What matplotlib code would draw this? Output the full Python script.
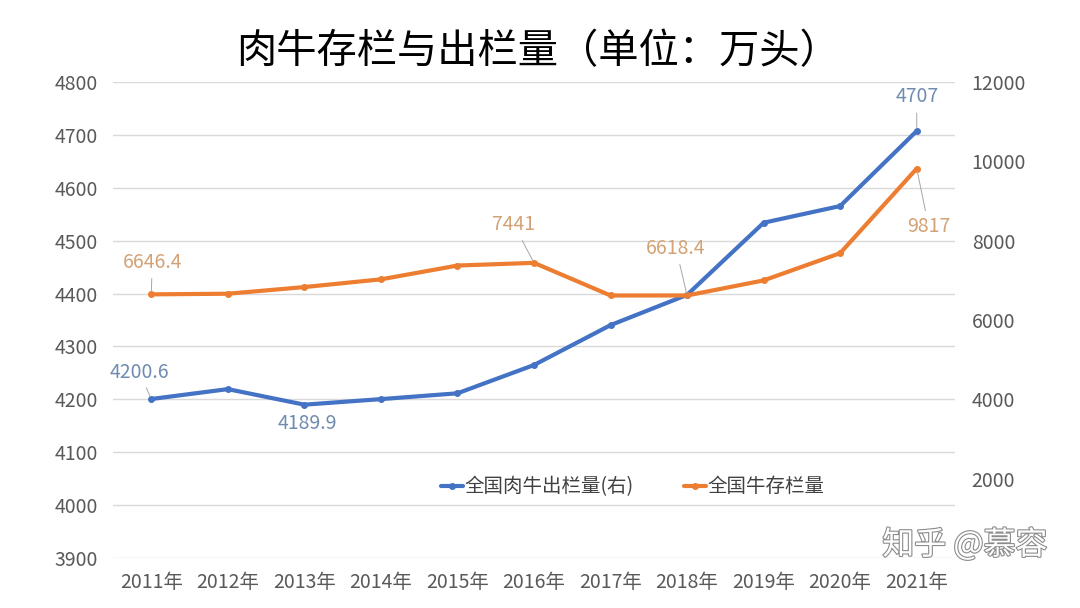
import matplotlib
matplotlib.use("Agg")
import matplotlib.pyplot as plt
import matplotlib.patheffects as pe


# data (万头)
years = ["2011年", "2012年", "2013年", "2014年", "2015年", "2016年",
         "2017年", "2018年", "2019年", "2020年", "2021年"]
slaughter = [4200.6, 4219.3, 4189.9, 4200.4, 4211.4, 4264.9,
             4340.3, 4397.5, 4533.9, 4565.5, 4707.4]
stock = [6646.4, 6662.3, 6830.0, 7025.0, 7372.9, 7441.0,
         6617.9, 6618.4, 6998.0, 7685.1, 9817.0]

left_ticks = [3900, 4000, 4100, 4200, 4300, 4400, 4500, 4600, 4700, 4800]
right_ticks = [2000, 4000, 6000, 8000, 10000, 12000]

# labelled points: (index, text)
slaughter_labels = [(0, "4200.6"), (2, "4189.9"), (10, "4707")]
stock_labels = [(0, "6646.4"), (5, "7441"), (7, "6618.4"), (10, "9817")]

BLUE = "#4472C4"
ORANGE = "#ED7D31"
GRID = "#D9D9D9"
TICK = "#595959"

plt.rcParams["font.family"] = ["Noto Sans CJK SC", "DejaVu Sans"]
plt.rcParams["font.weight"] = "light"

fig = plt.figure(figsize=(10.8, 6.08), dpi=100)
ax = fig.add_axes([113 / 1080, 1 - 558 / 608, 842 / 1080, 476 / 608])
ax2 = ax.twinx()

x = list(range(len(years)))

ax.set_ylim(3900, 4800)
ax.set_yticks(left_ticks)
ax2.set_ylim(0, 12000)
ax2.set_yticks(right_ticks)
ax.set_xlim(-0.5, len(years) - 0.5)
ax.set_xticks(x)
ax.set_xticklabels(years)

ax.grid(axis="y", color=GRID, lw=1.0)
ax.set_axisbelow(True)
for a in (ax, ax2):
    for s in a.spines.values():
        s.set_visible(False)
    a.tick_params(length=0, labelsize=14, labelcolor=TICK)
ax.tick_params(axis="y", pad=11)
ax2.tick_params(axis="y", pad=12)
ax.tick_params(axis="x", pad=10)

l1, = ax.plot(x, slaughter, color=BLUE, lw=3.0, marker="o", ms=4,
              solid_capstyle="round", label="全国肉牛出栏量(右)", zorder=3)
l2, = ax2.plot(x, stock, color=ORANGE, lw=3.0, marker="o", ms=4,
               solid_capstyle="round", label="全国牛存栏量", zorder=3)

leader = dict(arrowstyle="-", color="#A6A6A6", lw=0.7, shrinkA=2, shrinkB=2)

offsets_blue = {0: (-12, 27), 2: (3, -19), 10: (0, 34)}
for i, txt in slaughter_labels:
    dx, dy = offsets_blue[i]
    ax.annotate(txt, (x[i], slaughter[i]), xytext=(dx, dy),
                textcoords="offset pixels", ha="center", va="center",
                fontsize=14, color="#6F8CB0",
                arrowprops=None if i == 2 else leader, zorder=4)

offsets_orange = {0: (1, 32), 5: (-20, 38), 7: (-11, 47), 10: (12, -58)}
for i, txt in stock_labels:
    dx, dy = offsets_orange[i]
    ax2.annotate(txt, (x[i], stock[i]), xytext=(dx, dy),
                 textcoords="offset pixels", ha="center", va="center",
                 fontsize=14, color="#D2A274", arrowprops=leader, zorder=4)

ax2.legend([l1, l2], [l1.get_label(), l2.get_label()], loc="center",
           bbox_to_anchor=((633 - 113) / 842, (558 - 487) / 476), ncol=2,
           frameon=False, fontsize=14, handlelength=1.1, handletextpad=0.1,
           columnspacing=2.6, labelcolor="#404040")

fig.text(538 / 1080, 1 - 52 / 608, "肉牛存栏与出栏量（单位：万头）",
         ha="center", va="center", fontsize=29, color="black")

fig.text(965 / 1080, 1 - 545 / 608, "知乎 @慕容", ha="center", va="center",
         fontsize=23, color="white",
         path_effects=[pe.withStroke(linewidth=1.6, foreground="#8C8C8C")])

fig.savefig("out.png", dpi=100)
